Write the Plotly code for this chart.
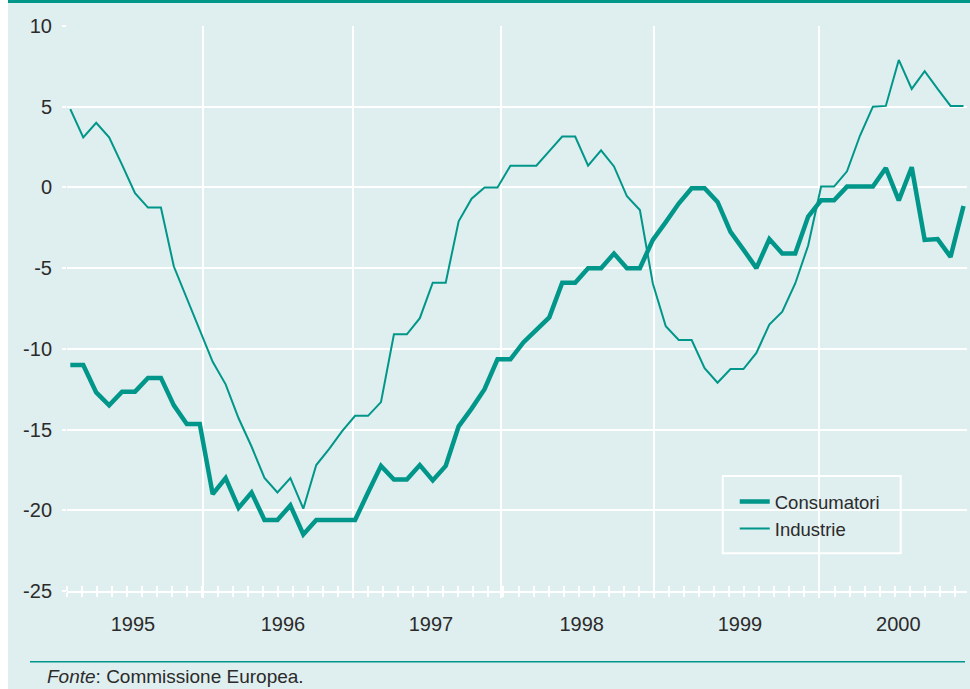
import plotly.graph_objects as go

# ---- data ----
years = ["1995", "1996", "1997", "1998", "1999", "2000"]
year_label_pos = [4.84, 16.43, 27.86, 39.50, 51.73, 63.96]   # centre of each year band (point index units)
year_bounds = [10.23, 21.82, 33.27, 45.11, 57.86]            # year separators (point index units)

consumatori = [-11.0, -11.0, -12.7, -13.5, -12.65, -12.65, -11.8, -11.8, -13.5, -14.65,
               -14.65, -19.0, -18.0, -19.85, -18.9, -20.6, -20.6, -19.7, -21.5, -20.6,
               -20.6, -20.6, -20.6, -18.9, -17.25, -18.1, -18.1, -17.2, -18.15, -17.25,
               -14.8, -13.7, -12.5, -10.65, -10.65, -9.6, -8.85, -8.05, -5.9, -5.9,
               -5.0, -5.0, -4.1, -5.0, -5.0, -3.25, -2.15, -1.0, -0.05, -0.05,
               -0.9, -2.75, -3.85, -5.0, -3.2, -4.1, -4.1, -1.8, -0.8, -0.8,
               0.05, 0.05, 0.05, 1.2, -0.8, 1.25, -3.25, -3.2, -4.3, -1.15]

industrie = [4.85, 3.1, 4.0, 3.1, 1.4, -0.35, -1.25, -1.25, -4.9, -6.9,
             -8.8, -10.8, -12.2, -14.3, -16.05, -18.0, -18.9, -18.0, -19.9, -17.2,
             -16.2, -15.1, -14.15, -14.15, -13.3, -9.1, -9.1, -8.1, -5.9, -5.9,
             -2.1, -0.7, 0.0, 0.0, 1.35, 1.35, 1.35, 2.25, 3.15, 3.15,
             1.35, 2.3, 1.3, -0.55, -1.4, -5.95, -8.6, -9.45, -9.45, -11.2,
             -12.1, -11.25, -11.25, -10.25, -8.5, -7.7, -5.95, -3.6, 0.05, 0.05,
             1.0, 3.2, 5.0, 5.05, 7.9, 6.1, 7.2, 6.1, 5.05, 5.05]

y_ticks = [-25, -20, -15, -10, -5, 0, 5, 10]

# ---- style ----
BG = "#DFEEEE"
TEAL = "#00968A"
TXT = "#2b2b2b"
FONT = "Liberation Sans, Arial, Helvetica, sans-serif"

x = list(range(len(consumatori)))
xr = [-0.255, 69.27]
MINOR0, MINORD = -0.255, 1.1626

fig = go.Figure()
fig.add_trace(go.Scatter(x=x, y=consumatori, name="Consumatori", mode="lines",
                         line=dict(color=TEAL, width=4.5)))
fig.add_trace(go.Scatter(x=x, y=industrie, name="Industrie", mode="lines",
                         line=dict(color=TEAL, width=2)))
# invisible helper trace so the overlay axis (year labels) is rendered
fig.add_trace(go.Scatter(x=[x[0]], y=[consumatori[0]], xaxis="x2", mode="markers",
                         marker=dict(opacity=0), showlegend=False, hoverinfo="skip"))

common = dict(range=xr, zeroline=False, fixedrange=True)

fig.update_layout(
    width=970, height=689,
    paper_bgcolor=BG, plot_bgcolor=BG,
    margin=dict(l=67, r=3, t=26, b=98, autoexpand=False),
    font=dict(family=FONT, color=TXT, size=20),
    xaxis=dict(**common, tickmode="array", tickvals=year_bounds,
               showticklabels=False, ticks="outside", ticklen=5, tickwidth=2,
               tickcolor="white", showgrid=True, gridcolor="white", gridwidth=2,
               showline=True, linecolor="white", linewidth=2,
               minor=dict(tickmode="linear", tick0=MINOR0, dtick=MINORD,
                          ticks="outside", ticklen=4, tickwidth=1.5,
                          tickcolor="white", showgrid=False)),
    xaxis2=dict(**common, overlaying="x", anchor="y", side="bottom",
                tickmode="array", tickvals=year_label_pos, ticktext=years,
                ticks="", showgrid=False, showline=False,
                tickfont=dict(size=20, color=TXT), ticklabelstandoff=19,
                minor=dict(tickmode="linear", tick0=MINOR0, dtick=MINORD,
                           ticks="inside", ticklen=5, tickwidth=1.5,
                           tickcolor="white", showgrid=False)),
    yaxis=dict(range=[-25, 10], tickmode="array", tickvals=y_ticks,
               ticktext=[str(v) for v in y_ticks], ticks="outside", ticklen=4,
               tickwidth=2, tickcolor="white", showgrid=True, gridcolor="white",
               gridwidth=2, zeroline=False, showline=False, fixedrange=True,
               tickfont=dict(size=20, color=TXT), ticklabelstandoff=6),
    legend=dict(x=0.7286, y=0.1912, xanchor="left", yanchor="top",
                bgcolor="rgba(0,0,0,0)", borderwidth=0,
                font=dict(size=18.5, color=TXT), indentation=12,
                tracegroupgap=0),
    showlegend=True,
)

# legend frame (covers the grid, white border)
fig.add_shape(type="rect", xref="paper", yref="paper", x0=0.7286, x1=0.9263,
              y0=0.0667, y1=0.2035, fillcolor=BG, line=dict(color="white", width=2),
              layer="below")
# top teal band
fig.add_shape(type="rect", xref="paper", yref="paper", x0=-0.0656, x1=1.1,
              y0=1.0407, y1=1.07, fillcolor=TEAL, line=dict(width=0), layer="above")
# white strip at the very left of the picture
fig.add_shape(type="rect", xref="paper", yref="paper", x0=-0.1, x1=-0.0656,
              y0=-0.25, y1=1.1, fillcolor="white", line=dict(width=0), layer="above")
# bottom rule above the source note
fig.add_shape(type="line", xref="paper", yref="paper", x0=-0.0411, x1=0.9978,
              y0=-0.1251, y1=-0.1251, line=dict(color=TEAL, width=1.5))

fig.add_annotation(xref="paper", yref="paper", x=-0.0244, y=-0.1522,
                   xanchor="left", yanchor="middle", showarrow=False,
                   text="<i>Fonte</i>: Commissione Europea.",
                   font=dict(size=19, color=TXT, family=FONT))

fig.write_html("out.html", config={"displayModeBar": False},
               post_script="document.body.style.margin='0';")
